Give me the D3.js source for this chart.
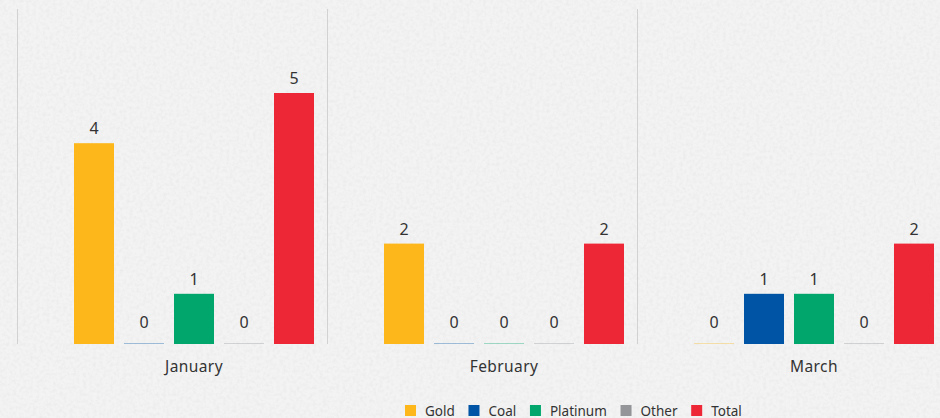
<!DOCTYPE html>
<html>
<head>
<meta charset="utf-8">
<script src="https://cdn.jsdelivr.net/npm/d3@7"></script>
<style>
  html, body { margin: 0; padding: 0; background: #f1f1f1; }
  svg { display: block; font-family: "Noto Sans", Lato, sans-serif; }
</style>
</head>
<body>
<div id="chart"></div>
<script>
var w = 940;
var h = 418;

var months = ['January', 'February', 'March'];
var series = ['Gold', 'Coal', 'Platinum', 'Other', 'Total'];
var colors = ['#fdb71a', '#0054a6', '#00a66c', '#939598', '#ee2737'];
var gold = [4, 2, 0];
var coal = [0, 0, 1];
var platinum = [1, 0, 1];
var other = [0, 0, 0];
var total = [5, 2, 2];

var values = [gold, coal, platinum, other, total];

var svg = d3.select('#chart').append('svg').attr('width', w).attr('height', h);

// paper texture
var defs = svg.append('defs');
var f = defs.append('filter').attr('id', 'paper').attr('x', 0).attr('y', 0).attr('width', '100%').attr('height', '100%');
f.append('feTurbulence').attr('type', 'fractalNoise').attr('baseFrequency', 0.3).attr('numOctaves', 3).attr('seed', 4).attr('result', 'n');
f.append('feColorMatrix').attr('in', 'n').attr('type', 'matrix')
  .attr('values', '0 0 0 0 0.3  0 0 0 0 0.3  0 0 0 0 0.3  0 0 0 -0.9 0.55');
svg.append('rect').attr('width', w).attr('height', h).attr('fill', '#f3f3f3');
svg.append('rect').attr('width', w).attr('height', h).attr('fill', '#fff').attr('filter', 'url(#paper)').attr('opacity', 0.18);

var x0 = d3.scaleBand().domain(months).range([17, 947]).paddingInner(0);
var x1 = d3.scaleBand().domain(series).range([57, 297]).paddingInner(0.2).paddingOuter(0);
var y = d3.scaleLinear().domain([0, 5]).range([344, 93]);

// separators
svg.selectAll('line.sep')
  .data(months)
  .enter()
  .append('line')
  .attr('class', 'sep')
  .attr('x1', function (d) { return Math.round(x0(d)) + 0.5; })
  .attr('x2', function (d) { return Math.round(x0(d)) + 0.5; })
  .attr('y1', 9)
  .attr('y2', 344)
  .attr('stroke', '#d2d2d2')
  .attr('stroke-width', 1);

var rows = [];
months.forEach(function (m, i) {
  series.forEach(function (s, j) {
    rows.push({ month: m, series: s, value: values[j][i], color: colors[j] });
  });
});

var groups = svg.selectAll('g.bar')
  .data(rows)
  .enter()
  .append('g')
  .attr('class', 'bar')
  .attr('transform', function (d) { return 'translate(' + (x0(d.month) + x1(d.series)) + ',0)'; });

groups.append('rect')
  .attr('x', 0)
  .attr('width', x1.bandwidth())
  .attr('y', function (d) { return d.value ? y(d.value) : y(0) - 1; })
  .attr('height', function (d) { return d.value ? y(0) - y(d.value) : 1; })
  .attr('fill', function (d) { return d.color; })
  .attr('opacity', function (d) { return d.value ? 1 : 0.35; });

groups.append('text')
  .attr('x', x1.bandwidth() / 2)
  .attr('y', function (d) { return d.value ? y(d.value) - 9 : y(0) - 16; })
  .attr('text-anchor', 'middle')
  .attr('font-size', 16)
  .attr('fill', '#333')
  .text(function (d) { return d.value; });

// month labels
svg.selectAll('text.month')
  .data(months)
  .enter()
  .append('text')
  .attr('class', 'month')
  .attr('x', function (d) { return x0(d) + x1.range()[0] + (x1.range()[1] - x1.range()[0]) / 2; })
  .attr('y', 372)
  .attr('text-anchor', 'middle')
  .attr('font-size', 15.5)
  .attr('letter-spacing', 0.4)
  .attr('fill', '#333')
  .text(function (d) { return d; });

// legend
var legend = svg.append('g').attr('transform', 'translate(405,405)');
var lx = 0;
series.forEach(function (s, i) {
  var item = legend.append('g').attr('transform', 'translate(' + lx + ',0)');
  item.append('rect').attr('width', 11).attr('height', 11).attr('fill', colors[i]);
  var t = item.append('text')
    .attr('x', 20)
    .attr('y', 10.5)
    .attr('font-size', 13.5)
    .attr('fill', '#333')
    .text(s);
  lx += 20 + t.node().getComputedTextLength() + 13.7;
});
</script>
</body>
</html>
